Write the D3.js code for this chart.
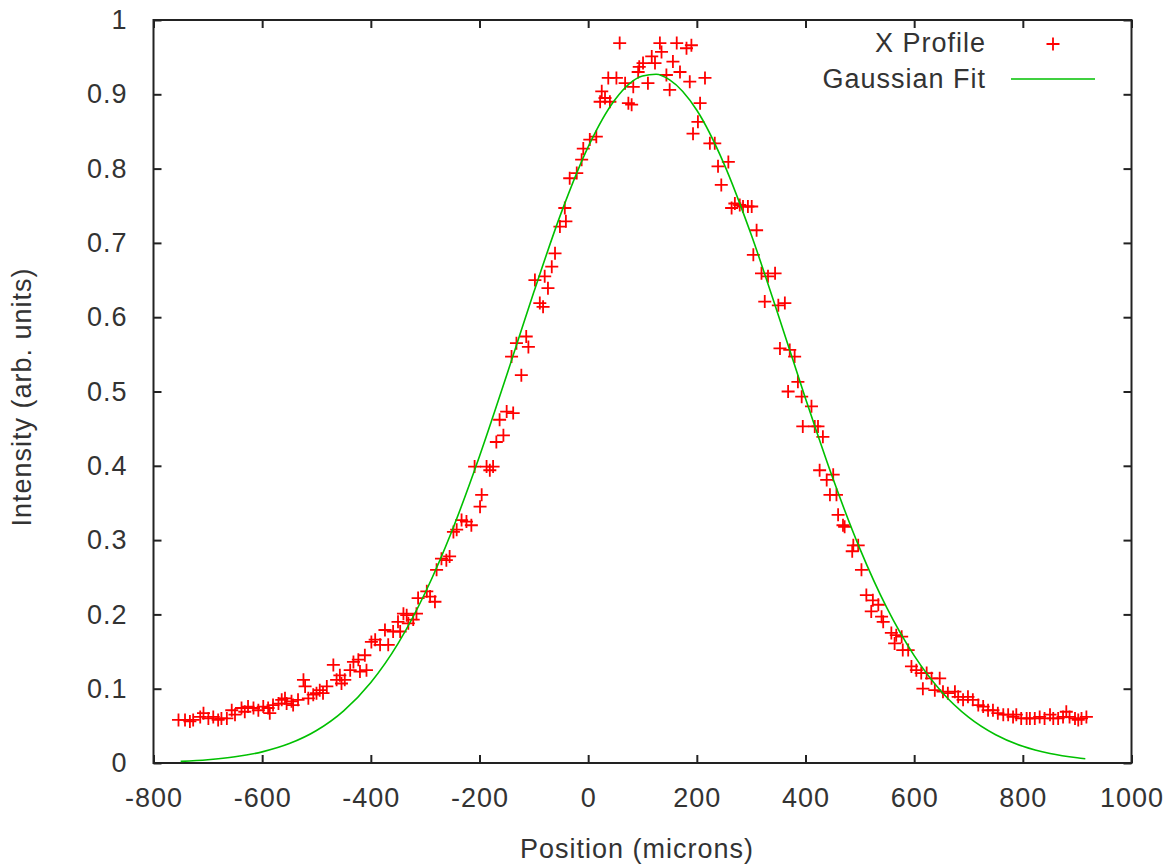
<!DOCTYPE html>
<html>
<head>
<meta charset="utf-8">
<script src="https://cdn.jsdelivr.net/npm/d3@7"></script>
<style>
body{margin:0;background:#fff;}
text{font-family:"Liberation Sans",Arial,sans-serif;fill:#333;}
</style>
</head>
<body>
<svg id="chart" width="1165" height="867"></svg>
<script>
// measured profile (position in microns, intensity)
var profileX=[-754,-742,-733,-727,-714,-708,-699,-690,-681,-675,-665,-656,-650,-638,-632,-626,-616,-607,-598,-589,-586,-580,-570,-564,-558,-555,-546,-543,-534,-524,-521,-515,-506,-500,-494,-488,-481,-469,-463,-457,-454,-448,-438,-432,-423,-420,-411,-408,-399,-392,-383,-374,-368,-359,-350,-346,-340,-334,-331,-322,-316,-313,
-297,-291,-282,-279,-270,-261,-255,-248,-242,-233,-224,-215,-209,-199,-196,-187,-181,-175,-169,-163,-156,-150,-141,-138,-132,-123,-114,-110,
-98,-89,-83,-80,-74,-67,-61,-52,-43,-41,-34,-21,-12,-9,3,15,22,25,31,37,40,52,58,68,74,80,83,92,94,101,110,117,123,132,135,144,150,156,163,169,181,187,190,193,202,206,215,224,233,239,245,258,
264,270,279,285,294,301,304,310,319,325,331,344,350,353,362,371,368,380,386,393,395,411,417,423,426,432,439,445,451,457,
460,469,472,488,486,497,503,512,521,524,534,540,543,558,564,567,577,579,589,595,604,613,616,623,632,638,647,653,662,675,681,690,699,708,718,727,736,745,754,764,773,782,788,797,807,813,822,831,840,850,856,865,874,880,886,896,902,908,917];
var profileY=[0.058,0.058,0.056,0.058,0.062,0.067,0.060,0.062,0.058,0.060,0.060,0.071,0.065,0.074,0.069,0.076,0.074,0.071,0.076,0.074,0.067,0.078,0.080,0.085,0.087,0.080,0.083,0.078,0.085,0.112,0.103,0.087,0.092,0.094,0.098,0.094,0.103,0.132,0.112,0.118,0.107,0.112,0.125,0.136,0.139,0.123,0.145,0.125,0.163,0.166,0.159,0.179,0.159,0.177,0.190,0.177,0.201,0.199,0.188,0.193,0.201,0.222,
0.231,0.224,0.217,0.260,0.275,0.273,0.278,0.311,0.314,0.327,0.325,0.320,0.399,0.345,0.361,0.399,0.394,0.399,0.432,0.462,0.441,0.473,0.547,0.471,0.565,0.522,0.574,0.560,
0.650,0.619,0.614,0.655,0.639,0.668,0.686,0.722,0.747,0.729,0.787,0.794,0.812,0.827,0.839,0.843,0.890,0.904,0.895,0.922,0.890,0.922,0.969,0.915,0.888,0.886,0.910,0.930,0.937,0.942,0.915,0.951,0.942,0.969,0.957,0.926,0.906,0.944,0.969,0.930,0.962,0.917,0.966,0.847,0.863,0.888,0.922,0.834,0.834,0.803,0.778,0.809,
0.747,0.753,0.751,0.749,0.749,0.749,0.684,0.717,0.659,0.621,0.655,0.659,0.616,0.558,0.619,0.556,0.500,0.547,0.513,0.493,0.453,0.480,0.453,0.453,0.394,0.439,0.381,0.361,0.388,0.361,
0.334,0.320,0.318,0.293,0.285,0.293,0.260,0.226,0.204,0.219,0.213,0.197,0.190,0.175,0.161,0.172,0.170,0.152,0.152,0.130,0.125,0.121,0.100,0.121,0.114,0.098,0.114,0.096,0.094,0.096,0.089,0.085,0.089,0.085,0.078,0.076,0.071,0.071,0.067,0.065,0.065,0.062,0.065,0.060,0.060,0.060,0.060,0.062,0.060,0.065,0.060,0.060,0.062,0.069,0.062,0.060,0.058,0.060,0.062];

// fitted curve
var fitX=[-750,-700,-650,-600,-550,-500,-450,-400,-350,-300,-250,-200,-150,-100,-50,0,50,100,125,150,200,250,300,350,400,450,500,550,600,650,700,750,800,850,900,915];
var fitY=[0.0022,0.0044,0.0083,0.0150,0.0261,0.0437,0.0702,0.1084,0.1607,0.2291,0.3137,0.4128,0.5218,0.6338,0.7397,0.8293,0.8934,0.9246,0.9270,0.9194,0.8785,0.8064,0.7112,0.6026,0.4907,0.3838,0.2885,0.2083,0.1445,0.0963,0.0617,0.0380,0.0224,0.0127,0.0070,0.0058];

var xTicks=[-800,-600,-400,-200,0,200,400,600,800,1000];
var yTicks=[0,0.1,0.2,0.3,0.4,0.5,0.6,0.7,0.8,0.9,1];
var legendLabels=['X Profile','Gaussian Fit'];

var svg=d3.select('#chart');
var L=153.5,R=1131.5,T=20,B=763;
var x=d3.scaleLinear().domain([-800,1000]).range([L,R]);
var y=d3.scaleLinear().domain([0,1]).range([B,T]);

var fs='27px';

// axes with inward ticks (mirrored on top/right)
var gx=svg.append('g').attr('transform','translate(0,'+B+')')
  .call(d3.axisBottom(x).tickValues(xTicks).tickSize(-8).tickPadding(25).tickFormat(function(d){return String(d);}));
var gxt=svg.append('g').attr('transform','translate(0,'+T+')')
  .call(d3.axisTop(x).tickValues(xTicks).tickSize(-8).tickFormat(''));
var gy=svg.append('g').attr('transform','translate('+L+',0)')
  .call(d3.axisLeft(y).tickValues(yTicks).tickSize(-8).tickPadding(26).tickFormat(function(d){return String(d);}));
var gyr=svg.append('g').attr('transform','translate('+R+',0)')
  .call(d3.axisRight(y).tickValues(yTicks).tickSize(-8).tickFormat(''));

[gx,gxt,gy,gyr].forEach(function(g){
  g.select('.domain').remove();
  g.selectAll('.tick line').attr('stroke','#222').attr('stroke-width',2);
  g.selectAll('.tick text').style('font-size',fs).style('letter-spacing','1px').attr('fill','#333');
});

svg.append('rect').attr('x',L).attr('y',T).attr('width',R-L).attr('height',B-T)
  .attr('fill','none').attr('stroke','#222').attr('stroke-width',2);

// axis titles
svg.append('text').attr('x',637).attr('y',858).attr('text-anchor','middle')
  .style('font-size',fs).style('letter-spacing','1px').text('Position (microns)');
svg.append('text').attr('transform','translate(31,397) rotate(-90)').attr('text-anchor','middle')
  .style('font-size',fs).style('letter-spacing','1px').text('Intensity (arb. units)');

// data points as crosses
var pts=profileX.map(function(d,i){return {x:d,y:profileY[i]};});
var cross='M-6.5,0H6.5M0,-6.5V6.5';
svg.append('g').selectAll('path').data(pts).enter().append('path')
  .attr('d',cross)
  .attr('transform',function(d){return 'translate('+x(d.x)+','+y(d.y)+')';})
  .attr('stroke','#ff0000').attr('stroke-width',1.8).attr('fill','none');

// gaussian fit line
var fit=fitX.map(function(d,i){return {x:d,y:fitY[i]};});
var line=d3.line().x(function(d){return x(d.x);}).y(function(d){return y(d.y);}).curve(d3.curveMonotoneX);
svg.append('path').datum(fit).attr('d',line)
  .attr('fill','none').attr('stroke','#00c000').attr('stroke-width',1.6);

// legend
var lg=svg.append('g');
lg.append('text').attr('x',986).attr('y',52).attr('text-anchor','end')
  .style('font-size',fs).style('letter-spacing','1px').text(legendLabels[0]);
lg.append('path').attr('d',cross).attr('transform','translate(1053,44)')
  .attr('stroke','#ff0000').attr('stroke-width',1.8);
lg.append('text').attr('x',986).attr('y',88).attr('text-anchor','end')
  .style('font-size',fs).style('letter-spacing','1px').text(legendLabels[1]);
lg.append('line').attr('x1',1011).attr('x2',1095).attr('y1',79).attr('y2',79)
  .attr('stroke','#00c000').attr('stroke-width',1.6);
</script>
</body>
</html>
